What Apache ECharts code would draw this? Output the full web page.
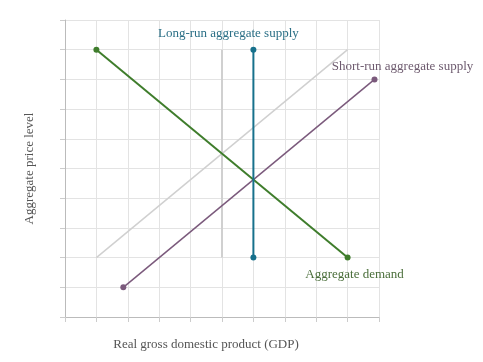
<!DOCTYPE html>
<html><head><meta charset="utf-8">
<script src="https://cdn.jsdelivr.net/npm/echarts@6/dist/echarts.min.js"></script>
<style>html,body{margin:0;padding:0;background:#fff}#c{width:483px;height:362px}</style>
</head><body><div id="c"></div>
<script>
const xAxisName = 'Real gross domestic product (GDP)';
const yAxisName = 'Aggregate price level';
const adPoints = [[1, 9], [9, 2]];
const lrasPoints = [[6, 9], [6, 2]];
const srasPoints = [[1.857, 1], [9.857, 8]];
const oldSrasPoints = [[1, 2], [9, 9]];
const oldLrasPoints = [[5, 9], [5, 2]];
const adLabel = 'Aggregate demand';
const lrasLabel = 'Long-run aggregate supply';
const srasLabel = 'Short-run aggregate supply';

const font = '"Liberation Serif", "DejaVu Serif", serif';
const chart = echarts.init(document.getElementById('c'), null, {renderer: 'canvas'});
chart.setOption({
  animation: false,
  grid: {left: 65, right: 104, top: 20, bottom: 45},
  xAxis: {
    type: 'value', min: 0, max: 10, interval: 1,
    name: xAxisName, nameLocation: 'middle', nameGap: 21,
    nameTextStyle: {fontFamily: font, fontSize: 13, color: '#555', padding: [0, 32, 0, 0]},
    axisLine: {lineStyle: {color: '#bbb'}},
    axisTick: {show: true, length: 5, lineStyle: {color: '#ccc'}},
    axisLabel: {show: false},
    splitLine: {lineStyle: {color: '#e3e3e3'}}
  },
  yAxis: {
    type: 'value', min: 0, max: 10, interval: 1,
    name: yAxisName, nameLocation: 'middle', nameGap: 29, nameRotate: 90,
    nameTextStyle: {fontFamily: font, fontSize: 13, color: '#555'},
    axisLine: {show: true, lineStyle: {color: '#bbb'}},
    axisTick: {show: true, length: 5, lineStyle: {color: '#ccc'}},
    axisLabel: {show: false},
    splitLine: {lineStyle: {color: '#e3e3e3'}}
  },
  series: [
    {type: 'line', data: oldSrasPoints, showSymbol: false, lineStyle: {color: '#d0d0d0', width: 1.5}, z: 1},
    {type: 'line', data: oldLrasPoints, showSymbol: false, lineStyle: {color: '#d0d0d0', width: 2}, z: 1},
    {type: 'line', data: [
        {value: srasPoints[0]},
        {value: srasPoints[1], label: {show: true, formatter: srasLabel, position: 'top', offset: [28, 2], fontFamily: font, fontSize: 13, color: '#6d5a6e'}}
      ],
      symbol: 'circle', symbolSize: 6, itemStyle: {color: '#7b5a7c'}, lineStyle: {color: '#7b5a7c', width: 1.5}, z: 3},
    {type: 'line', data: [
        {value: adPoints[0]},
        {value: adPoints[1], label: {show: true, formatter: adLabel, position: 'bottom', offset: [7, 2], fontFamily: font, fontSize: 13, color: '#4a6e3a'}}
      ],
      symbol: 'circle', symbolSize: 6, itemStyle: {color: '#3f7d2c'}, lineStyle: {color: '#3f7d2c', width: 2}, z: 4},
    {type: 'line', data: [
        {value: lrasPoints[0], label: {show: true, formatter: lrasLabel, position: 'top', offset: [-25, -2], fontFamily: font, fontSize: 13, color: '#2a6f86'}},
        {value: lrasPoints[1]}
      ],
      symbol: 'circle', symbolSize: 6, itemStyle: {color: '#17718c'}, lineStyle: {color: '#17718c', width: 2}, z: 5}
  ]
});
</script></body></html>
